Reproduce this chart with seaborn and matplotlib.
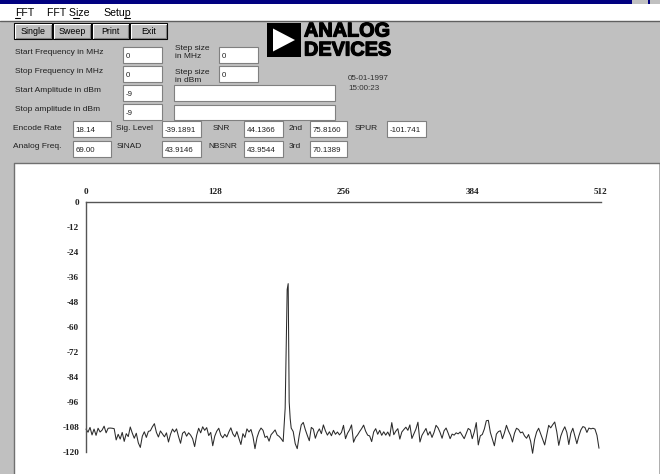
import numpy as np
import pandas as pd
import matplotlib
matplotlib.use('Agg')
import matplotlib.pyplot as plt
import matplotlib.patheffects as pe
from matplotlib.patches import Rectangle, Polygon
import seaborn as sns

sns.set_style('white')
plt.rcParams['font.family'] = ['Liberation Sans', 'DejaVu Sans']
plt.rcParams['axes.unicode_minus'] = False

# FFT magnitude in dB, one value for every second bin (0, 2, ... 510)
spectrum_db = [
    -109.0, -110.5, -108.2, -111.8, -109.0, -112.0, -108.6, -110.4, -109.5, -107.6, -110.8, -108.6, -108.5, -108.6, -108.8, -114.2,
    -111.5, -113.8, -110.6, -114.9, -111.2, -112.6, -108.0, -110.9, -113.4, -111.0, -115.6, -117.8, -112.4, -110.3, -113.0, -110.1,
    -109.8, -107.9, -106.4, -110.6, -112.8, -109.9, -111.3, -112.7, -110.8, -115.2, -111.5, -109.0, -110.4, -108.9, -112.6, -115.8,
    -111.0, -110.2, -112.4, -110.8, -111.9, -113.6, -117.4, -112.0, -108.6, -110.8, -107.9, -109.6, -108.3, -112.1, -110.6, -117.0,
    -112.4, -110.0, -108.6, -111.9, -113.2, -111.5, -112.8, -110.4, -108.4, -111.3, -112.7, -110.2, -113.4, -116.4, -111.2, -113.0,
    -108.9, -110.4, -109.2, -112.6, -118.4, -113.1, -110.2, -108.5, -109.6, -113.0, -112.4, -114.8, -111.7, -110.6, -109.4, -111.8,
    -112.5, -113.6, -115.0, -99.0, -42.0, -96.0, -108.5, -110.2, -116.0, -118.4, -112.0, -107.0, -105.8, -109.2, -112.0, -114.6,
    -108.2, -109.0, -113.4, -110.6, -108.9, -111.2, -107.0, -109.8, -111.9, -110.3, -112.2, -109.6, -111.5, -110.4, -111.8, -110.6,
    -107.2, -113.6, -111.0, -109.4, -107.0, -115.3, -113.0, -111.8, -110.2, -108.8, -107.1, -110.0, -111.9, -112.3, -115.0, -110.4,
    -108.8, -111.5, -109.6, -112.0, -110.3, -111.9, -110.4, -112.4, -105.9, -111.7, -110.0, -108.8, -113.8, -110.4, -109.2, -108.1,
    -109.6, -107.0, -113.5, -111.2, -109.0, -105.7, -115.2, -112.0, -110.4, -108.7, -111.9, -110.2, -113.0, -110.6, -107.2, -108.4,
    -110.6, -113.4, -109.8, -108.5, -110.9, -113.6, -111.4, -111.9, -110.8, -111.3, -110.4, -112.0, -113.6, -111.2, -108.7, -109.4,
    -113.6, -110.4, -105.9, -116.6, -112.2, -111.6, -109.0, -105.0, -104.8, -110.6, -113.8, -117.0, -111.4, -110.2, -109.8, -113.6,
    -110.8, -107.2, -109.9, -112.0, -115.2, -111.0, -108.6, -109.2, -110.8, -110.4, -112.3, -113.4, -111.6, -114.8, -120.6, -114.0,
    -110.4, -108.6, -111.2, -113.9, -116.6, -112.0, -107.2, -108.4, -106.9, -105.6, -110.2, -116.8, -112.4, -109.8, -107.9, -110.6,
    -116.4, -111.0, -108.6, -112.4, -116.0, -112.3, -109.4, -107.8, -108.2, -110.6, -108.5, -108.9, -108.6, -109.0, -112.0, -118.2,
]
# odd bins around the fundamental
peak_bins = [199, 201, 203]
peak_db = [-70.0, -39.19, -104.0]

x_ticks = [0, 128, 256, 384, 512]
y_ticks = [0, -12, -24, -36, -48, -60, -72, -84, -96, -108, -120]

menu_items = ['FFT', 'FFT Size', 'Setup']
buttons = ['Single', 'Sweep', 'Print', 'Exit']
setup_labels = ['Start Frequency in MHz', 'Stop Frequency in MHz',
                'Start Amplitude in dBm', 'Stop amplitude in dBm']
setup_values = ['0', '0', '-9', '-9']
step_labels = ['Step size\nin MHz', 'Step size\nin dBm']
step_values = ['0', '0']
date_text = ['05-01-1997', '15:00:23']
row1_labels = ['Encode Rate', 'Sig. Level', 'SNR', '2nd', 'SPUR']
row1_values = ['18.14', '-39.1891', '44.1366', '75.8160', '-101.741']
row2_labels = ['Analog Freq.', 'SINAD', 'NBSNR', '3rd']
row2_values = ['69.00', '43.9146', '43.9544', '70.1389']

df = pd.DataFrame({'bin': list(np.arange(0, 512, 2)) + peak_bins,
                   'db': spectrum_db + peak_db}).sort_values('bin')

fig = plt.figure(figsize=(6.6, 4.74), dpi=100, facecolor='#c0c0c0')

# background "window" drawn in pixel coordinates
bg = fig.add_axes([0, 0, 1, 1])
bg.set_xlim(0, 660)
bg.set_ylim(474, 0)
bg.axis('off')

UI = 6.0


def field(x0, y0, x1, y1, txt=''):
    bg.add_patch(Rectangle((x0, y0), x1 - x0, y1 - y0, facecolor='white',
                           edgecolor='#808080', lw=0.8))
    if txt:
        bg.text(x0 + 2.5, (y0 + y1) / 2 + 1.5, txt, fontsize=UI - 0.3,
                va='center', ha='left', color='#202020')


def button(x0, y0, x1, y1, txt):
    bg.add_patch(Rectangle((x0, y0), x1 - x0, y1 - y0, facecolor='#c0c0c0',
                           edgecolor='black', lw=0.8))
    bg.plot([x0 + 1, x0 + 1, x1 - 1], [y1 - 1, y0 + 1, y0 + 1], color='white', lw=0.8)
    bg.plot([x0 + 1.5, x1 - 1.5, x1 - 1.5], [y1 - 1.5, y1 - 1.5, y0 + 1.5], color='#808080', lw=0.8)
    bg.text((x0 + x1) / 2, (y0 + y1) / 2, txt, fontsize=UI + 0.4,
            ha='center', va='center', color='black')


# title bar and menu
bg.add_patch(Rectangle((0, 0), 660, 4, facecolor='#000080', lw=0))
bg.add_patch(Rectangle((632, 0), 16, 4, facecolor='#c0c0c0', lw=0))
bg.add_patch(Rectangle((650, 0), 10, 4, facecolor='#c0c0c0', lw=0))
bg.add_patch(Rectangle((0, 4), 660, 16.5, facecolor='white', lw=0))
bg.plot([0, 660], [20.8, 20.8], color='#606060', lw=1)
for txt, x in zip(menu_items, [15, 47, 103]):
    bg.text(x, 12.5, txt, fontsize=7.6, va='center', ha='left', color='black')
for x0, x1 in [(15, 20), (73, 79), (124, 130)]:
    bg.plot([x0, x1], [18, 18], color='black', lw=0.8)

# buttons
for txt, (x0, x1) in zip(buttons, [(14, 52), (53, 91), (92, 129), (130, 167)]):
    button(x0, 23, x1, 39, txt)

# setup fields
for i, (lab, val) in enumerate(zip(setup_labels, setup_values)):
    yc = [55, 74, 93, 112][i]
    bg.text(15, yc - 3, lab, fontsize=UI, va='center', color='#202020')
    field(123, yc - 8, 162, yc + 8, val)
for i, (lab, val) in enumerate(zip(step_labels, step_values)):
    yc = [55, 74][i]
    ly = [52.5, 76.5][i]
    bg.text(175, ly, lab, fontsize=UI, va='center', color='#202020', linespacing=1.25)
    field(219, yc - 8, 258, yc + 8, val)
field(174, 85, 335, 101)
field(174, 105, 335, 120)

# logo
bg.add_patch(Rectangle((267, 23), 34, 34, facecolor='black', lw=0))
bg.add_patch(Polygon([(273, 28.5), (273, 51.5), (295, 40)], closed=True,
                     facecolor='white', lw=0))
thick = [pe.withStroke(linewidth=0.9, foreground='black')]
bg.text(304, 31, 'ANALOG', fontsize=14.3, fontweight='bold', va='center', ha='left',
        color='black', path_effects=thick)
bg.text(304, 50, 'DEVICES', fontsize=14.3, fontweight='bold', va='center', ha='left',
        color='black', path_effects=thick)

bg.text(348, 78, date_text[0], fontsize=5.8, va='center', color='#303030')
bg.text(348, 88, date_text[1], fontsize=5.8, va='center', color='#303030')

# readouts
boxes = [(73, 111), (162, 201), (244, 283), (310, 347), (387, 426)]
lab_x1 = [13, 116, 213, 289, 355]
lab_x2 = [13, 117, 208, 289]
for lab, val, lx, (x0, x1) in zip(row1_labels, row1_values, lab_x1, boxes):
    bg.text(lx, 128, lab, fontsize=UI, va='center', color='#202020')
    field(x0, 121, x1, 137, val)
for lab, val, lx, (x0, x1) in zip(row2_labels, row2_values, lab_x2, boxes):
    bg.text(lx, 147, lab, fontsize=UI, va='center', color='#202020')
    field(x0, 141, x1, 157, val)

# white plot panel
bg.add_patch(Rectangle((14, 163), 645, 320, facecolor='white', lw=0))
bg.plot([13.5, 13.5, 659.5, 659.5], [480, 162.5, 162.5, 480], color='#707070', lw=1)

# spectrum
ax = fig.add_axes([86 / 660, 1 - 452 / 474, (601 - 86) / 660, 250 / 474])
ax.set_facecolor('none')
sns.lineplot(data=df, x='bin', y='db', ax=ax, color='#2a2a2a', linewidth=0.75,
             estimator=None, clip_on=False)
ax.set_xlim(0, 512)
ax.set_ylim(-120, 0)
ax.set_xticks(x_ticks)
ax.set_yticks(y_ticks)
ax.xaxis.tick_top()
ax.tick_params(axis='x', length=0, pad=4.3)
ax.tick_params(axis='y', length=0, pad=5)
for lab in ax.get_xticklabels() + ax.get_yticklabels():
    lab.set_fontfamily('Liberation Serif')
    lab.set_fontweight('bold')
    lab.set_fontsize(6.6)
    lab.set_color('#202020')
ax.set_xlabel('')
ax.set_ylabel('')
for s in ['bottom', 'right']:
    ax.spines[s].set_visible(False)
for s in ['top', 'left']:
    ax.spines[s].set_color('#555555')
    ax.spines[s].set_linewidth(1)
ax.grid(False)

fig.savefig('out.png', dpi=100, facecolor=fig.get_facecolor())
